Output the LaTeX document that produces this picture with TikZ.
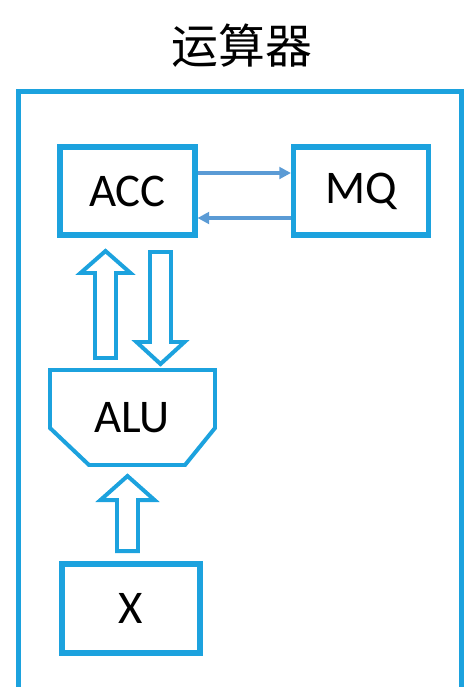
\documentclass[tikz,border=0pt]{standalone}
\usepackage{fontspec}
\setmainfont{Carlito}
\newfontfamily\cjkfont{Noto Sans CJK SC}
\usetikzlibrary{arrows.meta}

\definecolor{boxblue}{RGB}{28,162,222}
\definecolor{linkblue}{RGB}{91,155,213}

\tikzset{
  unitbox/.style={draw=boxblue, line width=4.3pt, minimum width=4.05cm,
    minimum height=2.64cm, font=\fontsize{40}{42}\selectfont},
  fatline/.style={draw=boxblue, line width=3.4pt, line join=miter},
  linkarrow/.style={draw=linkblue, line width=3pt,
    -{Triangle[length=10pt, width=10pt]}}
}

% hollow arrow: x of shaft, y of tail, y of tip, y of head base, head half width
\newcommand{\hollowarrow}[5]{%
  \draw[fatline] ({#1-10.5},#2) -- ({#1-10.5},#4) -- ({#1-#5},#4) -- (#1,#3)
    -- ({#1+#5},#4) -- ({#1+10.5},#4) -- ({#1+10.5},#2) -- cycle;}

\begin{document}
\begin{tikzpicture}[x=0.03cm, y=-0.03cm]
    \useasboundingbox (0,0) rectangle (464,687);
    \begin{scope}
    \clip (0,0) rectangle (464,687);

    % Title and frame
    \node (title) at (242,46) {\cjkfont\fontsize{40}{42}\selectfont 运算器};
    \draw[draw=boxblue, line width=4.6pt] (18.5,720) -- (18.5,91.5) --
    (461.5,91.5) -- (461.5,720);

    % Registers
    \node[unitbox] (acc) at (127.5,191) {ACC};
    \node[unitbox] (mq) at (361,191) {MQ};
    \node[unitbox, minimum width=4.14cm, minimum height=2.67cm] (x) at
    (131,608.5) {X};

    % ALU
    \draw[fatline] (50,370) -- (215,370) -- (215,428) -- (185,465) --
    (89,465) -- (50,428) -- cycle;
    \node[font=\fontsize{40}{42}\selectfont] (alu) at (132,418) {ALU};

    % Transfers between ACC and MQ
    \draw[linkarrow] ([yshift=0.54cm]acc.east) -- ([yshift=0.54cm]mq.west);
    \draw[linkarrow] ([yshift=-0.81cm]mq.west) -- ([yshift=-0.81cm]acc.east);

    % Data paths
    \hollowarrow{105.5}{358}{251}{273}{25}
    \hollowarrow{160.5}{252}{364}{342}{24}
    \hollowarrow{127.5}{551}{476}{500}{27}
    \end{scope}
\end{tikzpicture}
\end{document}
